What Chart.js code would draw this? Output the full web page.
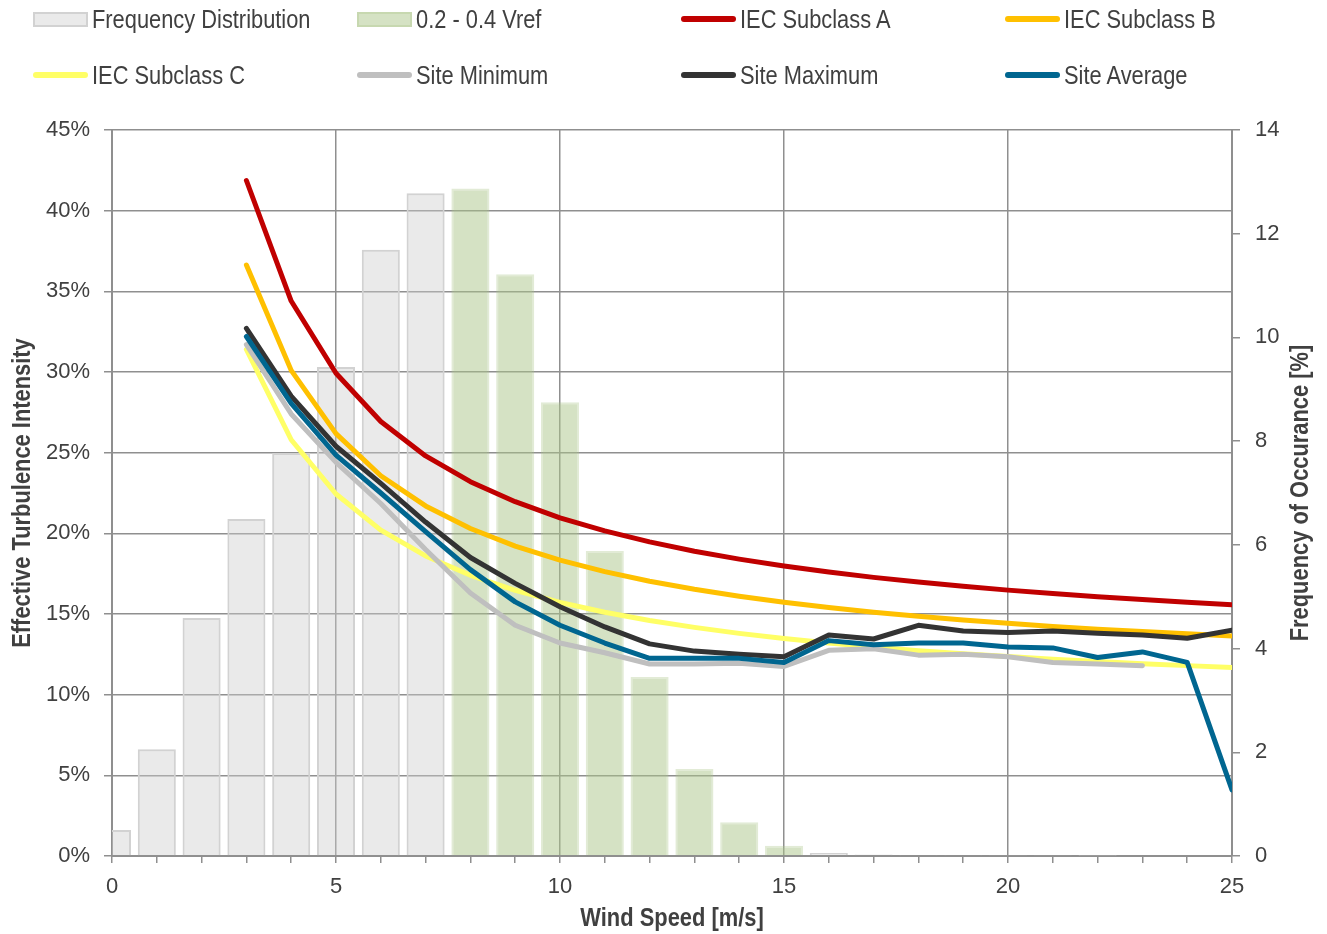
<!DOCTYPE html>
<html>
<head>
<meta charset="utf-8">
<script src="https://cdn.jsdelivr.net/npm/chart.js@4.4.1/dist/chart.umd.min.js"></script>
<style>
  html, body { margin: 0; padding: 0; background: #fff; }
  #wrap { position: relative; width: 1327px; height: 934px; }
  #legend { position: absolute; left: 0; top: 0; width: 1327px; height: 100px;
    font-family: 'Liberation Sans Narrow', 'Liberation Sans', sans-serif; font-size: 26px; color: #404040; }
  .item { position: absolute; display: flex; align-items: center; height: 30px; white-space: nowrap; }
  .swatch { width: 55px; margin-right: 4px; box-sizing: border-box; flex: none; }
  .label { display: inline-block; transform: scaleX(0.84); transform-origin: left center; }
</style>
</head>
<body>
<div id="wrap">
  <canvas id="chart" width="1327" height="934"></canvas>
  <div id="legend"></div>
</div>
<script>
"use strict";
// ========== DATA ========== //
const windSpeed = [0, 1, 2, 3, 4, 5, 6, 7, 8, 9, 10, 11, 12, 13, 14, 15, 16, 17, 18, 19, 20, 21, 22, 23, 24, 25];
// frequency of occurance [%] per wind speed bin
const frequency = [0.50, 2.06, 4.59, 6.50, 7.77, 9.43, 11.69, 12.78, 12.87, 11.22, 8.75, 5.88, 3.45, 1.68, 0.65, 0.20,
  0.06, 0.03, 0.02, 0.02, 0.01, 0.01, 0.005, 0, 0, 0];
// bins inside 0.2 - 0.4 Vref
const vrefBins = [8, 9, 10, 11, 12, 13, 14, 15];

// turbulence intensity [%], wind speeds 3 - 25 m/s
const tiSpeed = [3, 4, 5, 6, 7, 8, 9, 10, 11, 12, 13, 14, 15, 16, 17, 18, 19, 20, 21, 22, 23, 24, 25];
const iecA = [41.87, 34.40, 29.92, 26.93, 24.80, 23.20, 21.96, 20.96, 20.15, 19.47, 18.89, 18.40, 17.97,
  17.60, 17.27, 16.98, 16.72, 16.48, 16.27, 16.07, 15.90, 15.73, 15.58];
const iecB = [36.63, 30.10, 26.18, 23.57, 21.70, 20.30, 19.21, 18.34, 17.63, 17.03, 16.53, 16.10, 15.73,
  15.40, 15.11, 14.86, 14.63, 14.42, 14.23, 14.06, 13.91, 13.77, 13.64];
const iecC = [31.40, 25.80, 22.44, 20.20, 18.60, 17.40, 16.47, 15.72, 15.11, 14.60, 14.17, 13.80, 13.48,
  13.20, 12.95, 12.73, 12.54, 12.36, 12.20, 12.05, 11.92, 11.80, 11.69];
const siteMin = [31.7, 27.4, 24.4, 21.85, 19.0, 16.3, 14.3, 13.2, 12.6, 11.9, 11.9, 11.95, 11.75,
  12.75, 12.85, 12.45, 12.5, 12.35, 12.0, 11.9, 11.8, null, null];
const siteMax = [32.7, 28.5, 25.4, 23.1, 20.7, 18.5, 16.9, 15.45, 14.2, 13.15, 12.7, 12.5, 12.35,
  13.7, 13.45, 14.3, 13.95, 13.85, 13.95, 13.8, 13.7, 13.5, 14.0];
const siteAvg = [32.2, 28.05, 24.85, 22.5, 20.1, 17.75, 15.75, 14.3, 13.2, 12.25, 12.25, 12.25, 12.0,
  13.35, 13.1, 13.2, 13.2, 12.95, 12.9, 12.3, 12.65, 12.0, 4.1];

const textColor = '#404040';
const gridColor = '#8f8f8f';
const titleFont = "'Liberation Sans Narrow', 'Liberation Sans', sans-serif";

Chart.defaults.font.family = "'Liberation Sans', Arial, sans-serif";
Chart.defaults.color = textColor;

// 1: preparing the data
function barData(inVref) {
  return windSpeed.map((ws, i) => ({
    x: ws,
    y: vrefBins.includes(ws) === inVref ? frequency[i] : null
  }));
}

function lineData(values) {
  return tiSpeed.map((ws, i) => ({ x: ws, y: values[i] }));
}

function lineSet(label, values, color, order) {
  return {
    type: 'line',
    label: label,
    data: lineData(values),
    yAxisID: 'y',
    borderColor: color,
    backgroundColor: color,
    borderWidth: 5,
    borderCapStyle: 'round',
    borderJoinStyle: 'round',
    pointRadius: 0,
    tension: 0,
    fill: false,
    order: order
  };
}

// axis titles drawn by hand: condensed, both reading bottom to top
function drawScaled(ctx, text, x, y, angle) {
  ctx.save();
  ctx.translate(x, y);
  ctx.rotate(angle);
  ctx.scale(0.875, 1);
  ctx.fillText(text, 0, 0);
  ctx.restore();
}

const axisTitles = {
  id: 'axisTitles',
  afterDraw(chart) {
    const { ctx, chartArea } = chart;
    const midX = (chartArea.left + chartArea.right) / 2;
    const midY = (chartArea.top + chartArea.bottom) / 2;
    ctx.save();
    ctx.fillStyle = textColor;
    ctx.font = 'bold 25px ' + titleFont;
    ctx.textAlign = 'center';
    ctx.textBaseline = 'middle';
    drawScaled(ctx, 'Wind Speed [m/s]', midX, 919, 0);
    drawScaled(ctx, 'Effective Turbulence Intensity', 23, midY, -Math.PI / 2);
    drawScaled(ctx, 'Frequency of Occurance [%]', 1301, midY, -Math.PI / 2);
    ctx.restore();
  }
};

// 2: appending the chart
const datasets = [
  {
    type: 'bar',
    label: 'Frequency Distribution',
    data: barData(false),
    yAxisID: 'y1',
    backgroundColor: 'rgba(205,205,205,0.42)',
    borderColor: '#d2d2d2',
    borderWidth: 2,
    grouped: false,
    barPercentage: 0.85,
    categoryPercentage: 1,
    order: 20
  },
  {
    type: 'bar',
    label: '0.2 - 0.4 Vref',
    data: barData(true),
    yAxisID: 'y1',
    backgroundColor: 'rgba(171,197,137,0.5)',
    borderColor: 'rgba(171,197,137,0.35)',
    borderWidth: 2,
    grouped: false,
    barPercentage: 0.85,
    categoryPercentage: 1,
    order: 20
  },
  lineSet('IEC Subclass A', iecA, '#c00000', 7),
  lineSet('IEC Subclass B', iecB, '#ffc000', 8),
  lineSet('IEC Subclass C', iecC, '#ffff66', 9),
  lineSet('Site Minimum', siteMin, '#bfbfbf', 6),
  lineSet('Site Maximum', siteMax, '#333333', 5),
  lineSet('Site Average', siteAvg, '#006690', 4)
];

const chart = new Chart(document.querySelector('#chart'), {
  type: 'bar',
  data: { datasets: datasets },
  plugins: [axisTitles],
  options: {
    responsive: false,
    animation: false,
    layout: { padding: { top: 130, left: 0, right: 0, bottom: 0 } },
    plugins: { legend: { display: false }, tooltip: { enabled: false } },
    scales: {
      x: {
        type: 'linear',
        min: 0,
        max: 25,
        offset: false,
        ticks: {
          stepSize: 1,
          autoSkip: false,
          maxRotation: 0,
          font: { size: 22 },
          padding: 11,
          callback: v => (v % 5 === 0 ? v : '')
        },
        grid: {
          offset: false,
          color: ctx => (ctx.tick && ctx.tick.value % 5 === 0 ? gridColor : 'rgba(0,0,0,0)'),
          tickColor: gridColor,
          tickLength: 7,
          lineWidth: 1.5
        },
        border: { color: gridColor, width: 2 },
        afterFit: s => { s.height = 78; }
      },
      y: {
        position: 'left',
        min: 0,
        max: 45,
        ticks: { stepSize: 5, font: { size: 22 }, padding: 14, callback: v => v + '%' },
        grid: { color: gridColor, lineWidth: 1.5, tickLength: 8, tickColor: gridColor },
        border: { color: gridColor, width: 2 },
        afterFit: s => { s.width = 112; }
      },
      y1: {
        position: 'right',
        min: 0,
        max: 14,
        ticks: { stepSize: 2, font: { size: 22 }, padding: 15 },
        grid: { drawOnChartArea: false, tickLength: 8, color: gridColor, lineWidth: 1.5 },
        border: { color: gridColor, width: 2 },
        afterFit: s => { s.width = 95; }
      }
    }
  }
});

// 3: html legend in a 4 x 2 grid
const legendBox = document.querySelector('#legend');
chart.data.datasets.forEach((ds, i) => {
  const item = document.createElement('div');
  item.className = 'item';
  item.style.left = (33 + (i % 4) * 324) + 'px';
  item.style.top = (4 + Math.floor(i / 4) * 56) + 'px';
  const sw = document.createElement('span');
  sw.className = 'swatch';
  if (ds.type === 'bar') {
    sw.style.height = '15px';
    sw.style.background = ds.backgroundColor;
    sw.style.border = '2px solid ' + ds.borderColor;
  } else {
    sw.style.height = '6px';
    sw.style.borderRadius = '3px';
    sw.style.background = ds.borderColor;
  }
  const text = document.createElement('span');
  text.className = 'label';
  text.textContent = ds.label;
  item.appendChild(sw);
  item.appendChild(text);
  legendBox.appendChild(item);
});
</script>
</body>
</html>
